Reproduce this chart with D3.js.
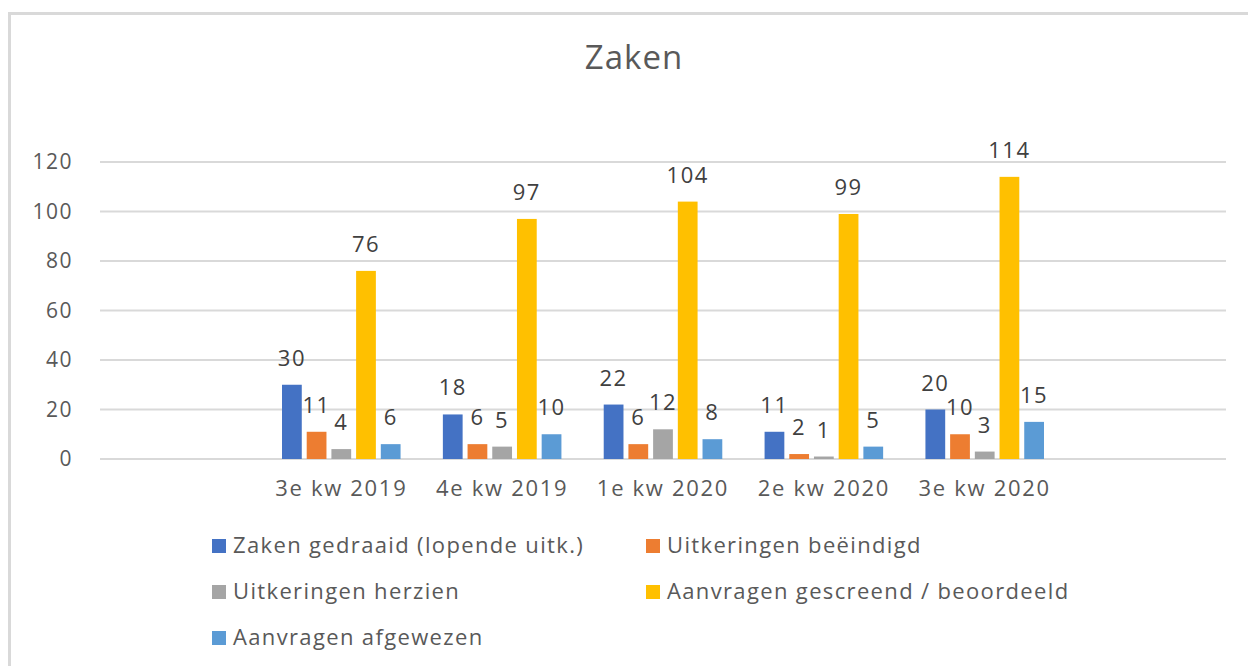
<!DOCTYPE html>
<html>
<head>
<meta charset="utf-8">
<script src="https://cdn.jsdelivr.net/npm/d3@7"></script>
<style>
  html, body { margin: 0; padding: 0; background: #fff; }
  svg { display: block; font-family: "Open Sans", sans-serif; }
</style>
</head>
<body>
<svg id="chart" width="1248" height="666"></svg>
<script>
const title = "Zaken";
const categories = ["", "3e kw 2019", "4e kw 2019", "1e kw 2020", "2e kw 2020", "3e kw 2020", " "];
const seriesNames = [
  "Zaken gedraaid (lopende uitk.)",
  "Uitkeringen beëindigd",
  "Uitkeringen herzien",
  "Aanvragen gescreend / beoordeeld",
  "Aanvragen afgewezen"
];
const seriesColors = ["#4472C4", "#ED7D31", "#A5A5A5", "#FFC000", "#5B9BD5"];
// values per series, for the 5 real quarters
const zakenGedraaid = [30, 18, 22, 11, 20];
const uitkeringenBeeindigd = [11, 6, 6, 2, 10];
const uitkeringenHerzien = [4, 5, 12, 1, 3];
const aanvragenGescreend = [76, 97, 104, 99, 114];
const aanvragenAfgewezen = [6, 10, 8, 5, 15];
const yTicks = [0, 20, 40, 60, 80, 100, 120];

const seriesValues = [zakenGedraaid, uitkeringenBeeindigd, uitkeringenHerzien, aanvragenGescreend, aanvragenAfgewezen];
const quarters = categories.slice(1, 6);

const svg = d3.select("#chart");
const textColor = "#595959";

// chart frame border
svg.append("path")
  .attr("d", "M9.5,666 L9.5,13.5 L1248,13.5")
  .attr("fill", "none").attr("stroke", "#D9D9D9").attr("stroke-width", 3);

svg.append("text")
  .attr("x", 634).attr("y", 69)
  .attr("text-anchor", "middle")
  .attr("fill", textColor)
  .attr("font-size", 33)
  .attr("letter-spacing", 1)
  .text(title);

const plotLeft = 100, plotRight = 1226, plotTop = 162, plotBottom = 459;

const x0 = d3.scaleBand().domain(categories).range([plotLeft, plotRight]);
const x1 = d3.scaleBand().domain(d3.range(seriesNames.length))
  .range([0, 123.5]).paddingInner(0.2).paddingOuter(0.1);
const y = d3.scaleLinear().domain([0, 120]).range([plotBottom, plotTop]);

// gridlines
svg.append("g").selectAll("line").data(yTicks).join("line")
  .attr("x1", plotLeft).attr("x2", plotRight)
  .attr("y1", d => y(d)).attr("y2", d => y(d))
  .attr("stroke", "#D9D9D9").attr("stroke-width", 2);

// y axis labels
const yAxis = d3.axisLeft(y).tickValues(yTicks).tickSize(0).tickPadding(0);
const yg = svg.append("g").attr("transform", `translate(73,0)`).call(yAxis);
yg.select(".domain").remove();
yg.selectAll("text")
  .attr("fill", textColor).attr("font-size", 21).attr("letter-spacing", 1.5)
  .attr("font-family", "Open Sans, sans-serif");

// x axis labels
const xAxis = d3.axisBottom(x0).tickSize(0).tickPadding(0);
const xg = svg.append("g").attr("transform", `translate(0,${plotBottom + 21})`).call(xAxis);
xg.select(".domain").remove();
xg.selectAll("text")
  .attr("fill", textColor).attr("font-size", 22).attr("letter-spacing", 1.7)
  .attr("font-family", "Open Sans, sans-serif");

// bars
const groups = svg.append("g").selectAll("g").data(quarters).join("g")
  .attr("transform", d => `translate(${x0(d) + x0.bandwidth() / 2 - 61.75},0)`);

groups.each(function(q, qi) {
  const g = d3.select(this);
  const data = seriesValues.map((vals, si) => ({ si, v: vals[qi] }));
  g.selectAll("rect").data(data).join("rect")
    .attr("x", d => x1(d.si))
    .attr("width", x1.bandwidth())
    .attr("y", d => y(d.v))
    .attr("height", d => y(0) - y(d.v))
    .attr("fill", d => seriesColors[d.si]);
  g.selectAll("text").data(data).join("text")
    .attr("x", d => x1(d.si) + x1.bandwidth() / 2)
    .attr("y", d => y(d.v) - 19)
    .attr("text-anchor", "middle")
    .attr("fill", "#404040")
    .attr("font-size", 22)
    .attr("letter-spacing", 1.5)
    .text(d => d.v);
});

// legend
const legendPos = [
  [212, 553], [646, 553],
  [212, 599], [646, 599],
  [212, 645]
];
const lg = svg.append("g").selectAll("g").data(seriesNames).join("g")
  .attr("transform", (d, i) => `translate(${legendPos[i][0]},${legendPos[i][1]})`);
lg.append("rect").attr("x", 0).attr("y", -14).attr("width", 14).attr("height", 14)
  .attr("fill", (d, i) => seriesColors[i]);
lg.append("text").attr("x", 21).attr("y", 0)
  .attr("fill", textColor).attr("font-size", 22).attr("letter-spacing", 1.35)
  .text(d => d);
</script>
</body>
</html>
